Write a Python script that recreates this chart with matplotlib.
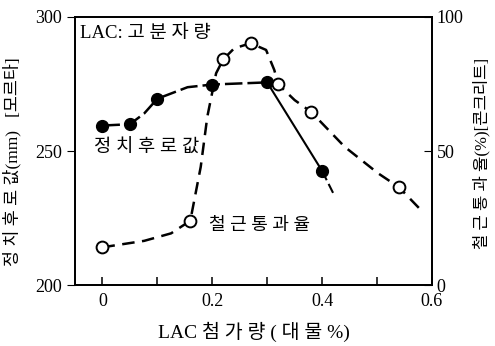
import numpy as np
import matplotlib
matplotlib.use("Agg")
import matplotlib.pyplot as plt

FONT = ['Liberation Serif', 'Noto Sans CJK KR', 'DejaVu Sans']
plt.rcParams['font.family'] = FONT

# 정치후로값 (mortar flow, mm) - filled markers
flow_x = [0.0, 0.05, 0.1, 0.2, 0.3, 0.4]
flow_y = [259.5, 260.0, 269.5, 274.8, 275.6, 242.6]
# line path
flow_line_x = [0.0, 0.05, 0.076, 0.1, 0.155, 0.2, 0.3]
flow_line_y = [259.5, 260.0, 264.0, 269.5, 273.8, 274.8, 275.6]
flow_tail_x = [0.3, 0.4]
flow_tail_y = [275.6, 242.6]
flow_ext_x = [0.4, 0.42]
flow_ext_y = [242.6, 234.4]

# 철근통과율 (%) [concrete] - open markers
pass_x = [0.0, 0.16, 0.22, 0.27, 0.32, 0.38, 0.54]
pass_y = [14.1, 24.0, 84.2, 90.2, 74.9, 64.6, 36.5]
pass_line_x = [0.0, 0.076, 0.125, 0.16, 0.179, 0.191, 0.207, 0.22, 0.24, 0.27,
               0.298, 0.313, 0.32, 0.35, 0.38, 0.441, 0.502, 0.54, 0.58]
pass_line_y = [14.1, 16.5, 19.3, 24.0, 44.1, 62.8, 79.0, 84.2, 88.3, 90.2,
               87.7, 80.2, 74.9, 69.0, 64.6, 51.6, 41.7, 36.5, 28.0]

fig = plt.figure(figsize=(4.95, 3.46), dpi=100)
ax = fig.add_axes([0.1515, 0.176, 0.721, 0.775])
ax2 = ax.twinx()

ax.plot(flow_line_x, flow_line_y, color='black', lw=1.8, dashes=(7, 2))
ax.plot(flow_tail_x, flow_tail_y, color='black', lw=1.5)
ax.plot(flow_ext_x, flow_ext_y, color='black', lw=1.5, dashes=(5, 2))
ax.plot(flow_x, flow_y, 'o', color='black', ms=8.5, zorder=5)

ax2.plot(pass_line_x, pass_line_y, color='black', lw=1.8, dashes=(5, 3))
ax2.plot(pass_x, pass_y, 'o', mfc='white', mec='black', mew=1.4, ms=8.5, zorder=5)

ax.set_xlim(-0.05, 0.6)
ax.set_ylim(200, 300)
ax2.set_ylim(0, 100)

ax.set_xticks([0, 0.2, 0.4, 0.6])
ax.set_xticklabels(['0', '0.2', '0.4', '0.6'])
ax.set_xticks([0.1, 0.3, 0.5], minor=True)
ax.set_yticks([200, 250, 300])
ax2.set_yticks([0, 50, 100])

ax.tick_params(axis='x', which='both', direction='in', length=6, width=1.1,
               labelsize=13, pad=6)
ax.tick_params(axis='y', direction='out', length=6, labelsize=13)
ax2.tick_params(axis='y', direction='in', length=6, labelsize=13)

for a in (ax, ax2):
    for s in a.spines.values():
        s.set_linewidth(1.3)

ax.set_xlabel('LAC 첨 가 량 ( 대 물 %)', fontsize=14, labelpad=8)
ax.set_ylabel('정 치 후 로 값(mm)   [모르타]', fontsize=12.5)
ax.yaxis.set_label_coords(-0.15, 0.46)
ax2.set_ylabel('철 근 통 과 율(%)[콘크리트]', fontsize=12)
ax2.yaxis.set_label_coords(1.115, 0.49)

ax.text(-0.04, 294, 'LAC: 고 분 자 량', fontsize=13.5, va='center', ha='left')
ax.text(-0.016, 251, '정 치 후 로 값', fontsize=13.5, va='center', ha='left')
ax2.text(0.194, 22.4, '철 근 통 과 율', fontsize=13, va='center', ha='left')

fig.savefig('out.png', dpi=100)
